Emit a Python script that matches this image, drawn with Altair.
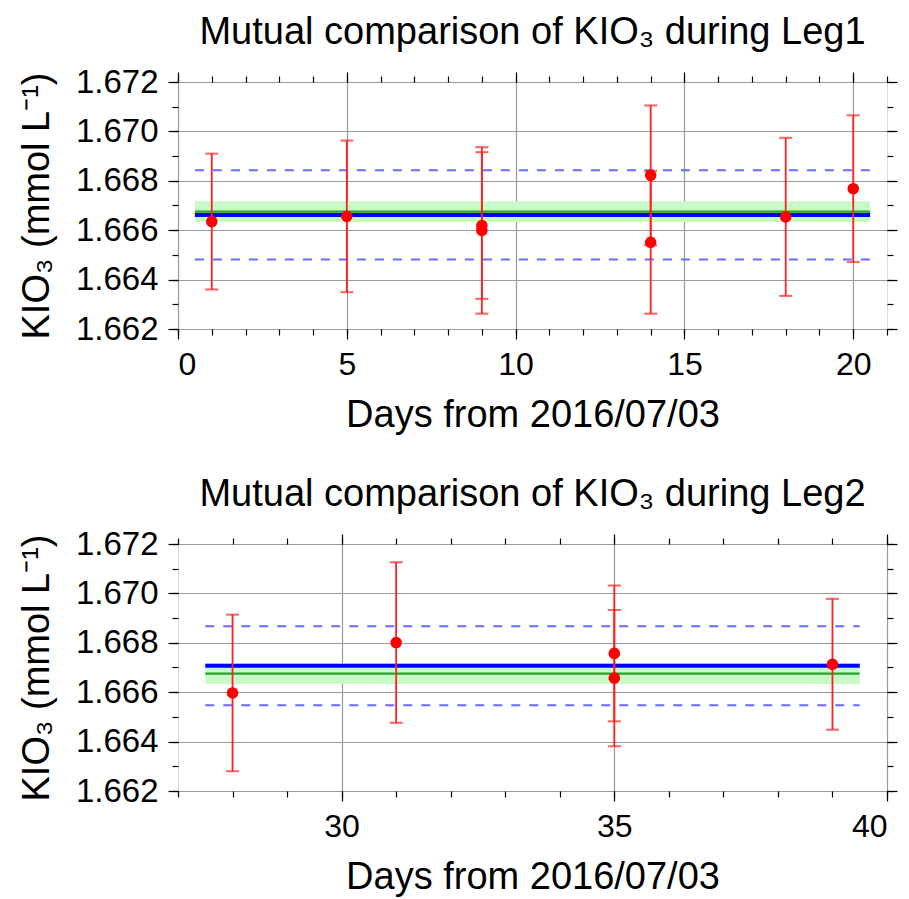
import altair as alt
import pandas as pd

FONT = "Liberation Sans"

# ---------------- data ----------------
leg1_days = [1, 5, 9, 9, 14, 14, 18, 20]
leg1_vals = [1.66635, 1.66656, 1.66619, 1.66599, 1.66822, 1.66551, 1.66654, 1.66768]
leg1_errs = [0.00275, 0.00307, 0.00297, 0.00337, 0.00283, 0.00289, 0.00320, 0.00297]
leg1_mean = 1.66662
leg1_sd = 0.00181
leg1_xrange = [0.5, 20.5]

leg2_days = [28, 31, 35, 35, 39]
leg2_vals = [1.66597, 1.66801, 1.66757, 1.66657, 1.66713]
leg2_errs = [0.00317, 0.00325, 0.00275, 0.00276, 0.00265]
leg2_mean = 1.66707
leg2_sd = 0.00160
leg2_xrange = [27.5, 39.5]

ref_value = 1.66675
ref_unc = 0.00042

y_domain = [1.662, 1.672]
y_major = [1.662, 1.664, 1.666, 1.668, 1.670, 1.672]
y_minor = [1.662, 1.663, 1.664, 1.665, 1.666, 1.667, 1.668, 1.669, 1.670, 1.671, 1.672]

leg1_xdomain = [0, 21]
leg1_xmajor = [0, 5, 10, 15, 20]
leg1_xminor = list(range(0, 22))
leg2_xdomain = [27, 40]
leg2_xmajor = [30, 35, 40]
leg2_xminor = list(range(27, 41))

x_title = "Days from 2016/07/03"
y_title = "KIO\u2083 (mmol L\u207b\u00b9)"
title1 = "Mutual comparison of KIO\u2083 during Leg1"
title2 = "Mutual comparison of KIO\u2083 during Leg2"

W, H = 709, 247


def panel(days, vals, errs, mean, sd, xrange, xdomain, xmajor, xminor, title):
    pts = pd.DataFrame({
        "day": days,
        "val": vals,
        "lo": [v - e for v, e in zip(vals, errs)],
        "hi": [v + e for v, e in zip(vals, errs)],
    })
    caps = pd.DataFrame({
        "day": days + days,
        "y": [v - e for v, e in zip(vals, errs)] + [v + e for v, e in zip(vals, errs)],
    })
    band = pd.DataFrame({"x1": [xrange[0]], "x2": [xrange[1]],
                         "y1": [ref_value - ref_unc], "y2": [ref_value + ref_unc]})
    ref = pd.DataFrame({"x1": [xrange[0]], "x2": [xrange[1]], "y": [ref_value]})
    mline = pd.DataFrame({"x1": [xrange[0]], "x2": [xrange[1]], "y": [mean]})
    dlines = pd.DataFrame({"x1": [xrange[0]] * 2, "x2": [xrange[1]] * 2,
                           "y": [mean - sd, mean + sd]})

    xs = alt.Scale(domain=xdomain, nice=False, zero=False)
    ys = alt.Scale(domain=y_domain, nice=False, zero=False)

    common = dict(labelFont=FONT, titleFont=FONT, tickColor="black",
                  tickWidth=1.2, domain=False, labelColor="black", titleColor="black")

    x_bottom_major = alt.Axis(orient="bottom", values=xmajor, format="d", grid=True,
                              gridColor="#9a9a9a", gridWidth=1.2, tickSize=10,
                              labelFontSize=32, labelPadding=10, title=x_title,
                              titleFontSize=38, titleFontWeight="normal", titlePadding=16,
                              **common)
    y_left_major = alt.Axis(orient="left", values=y_major, format=".3f", grid=True,
                            gridColor="#9a9a9a", gridWidth=1.2, tickSize=10,
                            labelFontSize=33, labelPadding=10, title=y_title,
                            titleFontSize=38, titleFontWeight="normal", titlePadding=19,
                            **common)
    x_top_major = alt.Axis(orient="top", values=xmajor, labels=False, grid=False,
                           tickSize=10, title=None, **common)
    y_right_major = alt.Axis(orient="right", values=y_major, labels=False, grid=False,
                             tickSize=10, title=None, **common)
    x_bottom_minor = alt.Axis(orient="bottom", values=xminor, labels=False, grid=False,
                              tickSize=6, title=None, **common)
    y_left_minor = alt.Axis(orient="left", values=y_minor, labels=False, grid=False,
                            tickSize=6, title=None, **common)
    x_top_minor = alt.Axis(orient="top", values=xminor, labels=False, grid=False,
                           tickSize=6, title=None, **common)
    y_right_minor = alt.Axis(orient="right", values=y_minor, labels=False, grid=False,
                             tickSize=6, title=None, **common)

    band_l = alt.Chart(band).mark_rect(color="#c8fac8").encode(
        x=alt.X("x1:Q", scale=xs, axis=x_bottom_major), x2="x2:Q",
        y=alt.Y("y1:Q", scale=ys, axis=y_left_major), y2="y2:Q")
    ref_l = alt.Chart(ref).mark_rule(color="#2ca02c", strokeWidth=2.2).encode(
        x=alt.X("x1:Q", scale=xs, axis=x_top_major), x2="x2:Q",
        y=alt.Y("y:Q", scale=ys, axis=y_right_major))
    mean_l = alt.Chart(mline).mark_rule(color="#0000ff", strokeWidth=4).encode(
        x=alt.X("x1:Q", scale=xs, axis=x_bottom_minor), x2="x2:Q",
        y=alt.Y("y:Q", scale=ys, axis=y_left_minor))
    dash_l = alt.Chart(dlines).mark_rule(color="#6a6aff", strokeWidth=2,
                                         strokeDash=[9, 9]).encode(
        x=alt.X("x1:Q", scale=xs, axis=x_top_minor), x2="x2:Q",
        y=alt.Y("y:Q", scale=ys, axis=y_right_minor))
    err_l = alt.Chart(pts).mark_rule(color="#ff2020", strokeWidth=1.8).encode(
        x=alt.X("day:Q", scale=xs, axis=None),
        y=alt.Y("lo:Q", scale=ys, axis=None), y2="hi:Q")
    cap_l = alt.Chart(caps).mark_tick(color="#ff2020", orient="horizontal",
                                      size=13, thickness=2).encode(
        x=alt.X("day:Q", scale=xs, axis=None),
        y=alt.Y("y:Q", scale=ys, axis=None))
    pt_l = alt.Chart(pts).mark_circle(color="#ff0000", size=135, opacity=1).encode(
        x=alt.X("day:Q", scale=xs, axis=None),
        y=alt.Y("val:Q", scale=ys, axis=None))

    return alt.layer(band_l, ref_l, mean_l, dash_l, err_l, cap_l, pt_l).resolve_axis(
        x="independent", y="independent"
    ).properties(
        width=W, height=H,
        title=alt.TitleParams(title, font=FONT, fontSize=38, fontWeight="normal",
                              color="black", anchor="middle", frame="group", offset=14),
    )


top = panel(leg1_days, leg1_vals, leg1_errs, leg1_mean, leg1_sd, leg1_xrange,
            leg1_xdomain, leg1_xmajor, leg1_xminor, title1)
bottom = panel(leg2_days, leg2_vals, leg2_errs, leg2_mean, leg2_sd, leg2_xrange,
               leg2_xdomain, leg2_xmajor, leg2_xminor, title2)

chart = alt.vconcat(top, bottom, spacing=215, bounds="flush").properties(
    padding={"left": 17, "top": 13, "right": 5, "bottom": 5}
).configure_view(stroke="black", strokeWidth=2.5).configure(background="white")

chart.save("out.html", embed_options={"renderer": "svg", "actions": False})
